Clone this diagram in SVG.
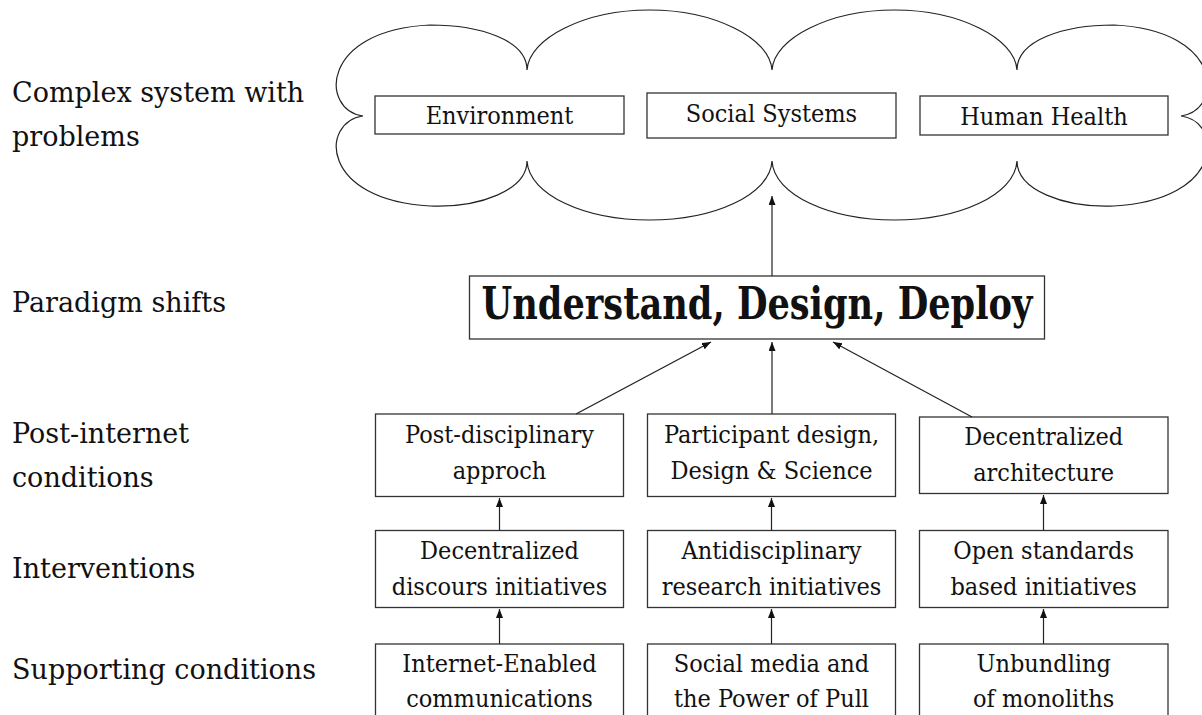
<svg xmlns="http://www.w3.org/2000/svg" width="1202" height="715" viewBox="0 0 1202 715">
<style>
text{font-family:"DejaVu Serif Condensed","DejaVu Serif","Liberation Serif",serif;font-stretch:condensed;fill:#111}
.lab{font-family:"DejaVu Serif","Liberation Serif",serif;font-stretch:normal;font-size:27px}
.bx{font-size:25px;text-anchor:middle}
.big{font-size:44px;font-weight:bold;text-anchor:middle}
.box{fill:#fff;stroke:#333;stroke-width:1.3}
.cloud{fill:none;stroke:#222;stroke-width:1.2}
.con line{stroke:#222;stroke-width:1.2}
</style>
<defs>
<marker id="ah" markerUnits="userSpaceOnUse" markerWidth="10" markerHeight="8" refX="9" refY="3.5" orient="auto">
<path d="M0,0 L9,3.5 L0,7 z" fill="#111"/>
</marker>
</defs>
<rect width="1202" height="715" fill="#fff"/>

<g id="labels">
<text class="lab" x="12" y="102">Complex system with</text>
<text class="lab" x="12" y="146">problems</text>
<text class="lab" x="12" y="312">Paradigm shifts</text>
<text class="lab" x="12" y="443">Post-internet</text>
<text class="lab" x="12" y="487">conditions</text>
<text class="lab" x="12" y="578">Interventions</text>
<text class="lab" x="12" y="679">Supporting conditions</text>
</g>

<g id="cloud">
<path class="cloud" d="M363,116 C320,110 320,30 430,25 C480,25 527,40 527,70 C529,38 585,10 649.5,10 C714,10 770,38 772,70 C774,38 830,10 894.5,10 C959,10 1015,38 1017,70 C1017,40 1064,25 1114,25 C1224,30 1224,110 1181,116 C1224,122 1224,200 1114,206 C1064,208 1017,190 1017,161 C1015,195 959,220 894.5,220 C830,220 774,195 772,161 C770,195 714,220 649.5,220 C585,220 529,195 527,161 C527,190 480,208 430,206 C320,200 320,122 363,116 Z"/>
</g>

<g id="environment"><rect class="box" x="375" y="96" width="249" height="38"/><text class="bx" x="499.5" y="124">Environment</text></g>
<g id="social-systems"><rect class="box" x="647" y="93" width="249" height="45"/><text class="bx" x="771.5" y="122">Social Systems</text></g>
<g id="human-health"><rect class="box" x="920" y="96" width="248" height="39"/><text class="bx" x="1044" y="125">Human Health</text></g>

<g id="paradigm"><rect class="box" x="469.5" y="276" width="575" height="63"/><text class="big" x="757" y="319" textLength="551" lengthAdjust="spacingAndGlyphs">Understand, Design, Deploy</text></g>

<g id="post-disciplinary"><rect class="box" x="375.5" y="414" width="248" height="82.5"/><text class="bx" x="499.5" y="443">Post-disciplinary</text><text class="bx" x="499.5" y="479">approch</text></g>
<g id="participant-design"><rect class="box" x="647.5" y="414" width="248" height="82.5"/><text class="bx" x="771.5" y="443">Participant design,</text><text class="bx" x="771.5" y="479">Design &amp; Science</text></g>
<g id="decentralized-architecture"><rect class="box" x="919.5" y="417" width="248.5" height="76.5"/><text class="bx" x="1043.7" y="445">Decentralized</text><text class="bx" x="1043.7" y="481">architecture</text></g>

<g id="discours"><rect class="box" x="375.5" y="530.5" width="248" height="77"/><text class="bx" x="499.5" y="559">Decentralized</text><text class="bx" x="499.5" y="595">discours initiatives</text></g>
<g id="antidisciplinary"><rect class="box" x="647.5" y="530.5" width="248" height="77"/><text class="bx" x="771.5" y="559">Antidisciplinary</text><text class="bx" x="771.5" y="595">research initiatives</text></g>
<g id="open-standards"><rect class="box" x="919.5" y="530.5" width="248.5" height="77"/><text class="bx" x="1043.7" y="559">Open standards</text><text class="bx" x="1043.7" y="595">based initiatives</text></g>

<g id="internet-enabled"><rect class="box" x="375.5" y="644" width="248" height="100"/><text class="bx" x="499.5" y="672">Internet-Enabled</text><text class="bx" x="499.5" y="707">communications</text></g>
<g id="social-media"><rect class="box" x="647.5" y="644" width="248" height="100"/><text class="bx" x="771.5" y="672">Social media and</text><text class="bx" x="771.5" y="707">the Power of Pull</text></g>
<g id="unbundling"><rect class="box" x="919.5" y="644" width="248.5" height="100"/><text class="bx" x="1043.7" y="672">Unbundling</text><text class="bx" x="1043.7" y="707">of monoliths</text></g>

<g class="con" id="connectors">
<line x1="772" y1="276" x2="772" y2="196" marker-end="url(#ah)"/>
<line x1="576" y1="414" x2="711" y2="342" marker-end="url(#ah)"/>
<line x1="772" y1="414" x2="772" y2="342" marker-end="url(#ah)"/>
<line x1="972" y1="417" x2="833" y2="342" marker-end="url(#ah)"/>
<line x1="499.5" y1="530.5" x2="499.5" y2="498" marker-end="url(#ah)"/>
<line x1="771.5" y1="530.5" x2="771.5" y2="498" marker-end="url(#ah)"/>
<line x1="1043.5" y1="530.5" x2="1043.5" y2="495" marker-end="url(#ah)"/>
<line x1="499.5" y1="644" x2="499.5" y2="609" marker-end="url(#ah)"/>
<line x1="771.5" y1="644" x2="771.5" y2="609" marker-end="url(#ah)"/>
<line x1="1043.5" y1="644" x2="1043.5" y2="609" marker-end="url(#ah)"/>
</g>
</svg>
